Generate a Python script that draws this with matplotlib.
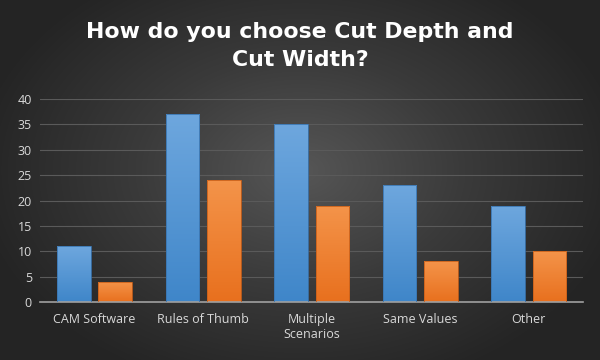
import numpy as np
import matplotlib
matplotlib.use("Agg")
import matplotlib.pyplot as plt
from matplotlib.colors import LinearSegmentedColormap

## data
categories = ["CAM Software", "Rules of Thumb", "Multiple\nScenarios", "Same Values", "Other"]
cut_depth = [11, 37, 35, 23, 19]   # blue
cut_width = [4, 24, 19, 8, 10]     # orange
y_ticks = [0, 5, 10, 15, 20, 25, 30, 35, 40]

plt.rcParams['font.family'] = ['Open Sans', 'DejaVu Sans']

fig = plt.figure(figsize=(6, 3.6), dpi=100)

# background: radial gradient, lighter in the middle
bg = fig.add_axes([0, 0, 1, 1])
yy, xx = np.mgrid[0:360, 0:600]
r = np.sqrt(((xx - 300) / 330.0) ** 2 + ((yy - 170) / 230.0) ** 2)
r = np.clip(r, 0, 1)
bg_cmap = LinearSegmentedColormap.from_list("bg", ["#565656", "#3a3a3a", "#242424"])
bg.imshow(r, cmap=bg_cmap, aspect='auto', extent=[0, 1, 0, 1], vmin=0, vmax=1)
bg.set_axis_off()

ax = fig.add_axes([0.067, 0.161, 0.905, 0.564])
ax.patch.set_alpha(0)

x = np.arange(len(categories))
w = 0.31
off = 0.19

blue_cmap = LinearSegmentedColormap.from_list("b", ["#3f86c9", "#6ea7de"])
orange_cmap = LinearSegmentedColormap.from_list("o", ["#e8701e", "#f4944a"])

def grad_bars(xs, vals, cmap, edge):
    bars = ax.bar(xs, vals, width=w, color='none', edgecolor=edge, linewidth=0.6, zorder=3)
    grad = np.linspace(0, 1, 256).reshape(-1, 1)
    for b in bars:
        x0 = b.get_x()
        im = ax.imshow(grad, cmap=cmap, aspect='auto', origin='lower',
                       extent=[x0, x0 + b.get_width(), 0, b.get_height()], zorder=2)
        im.set_clip_path(b)

grad_bars(x - off, cut_depth, blue_cmap, "#3a75b0")
grad_bars(x + off, cut_width, orange_cmap, "#c9601a")

ax.set_xlim(-0.5, len(categories) - 0.5)
ax.set_ylim(0, 40)
ax.set_yticks(y_ticks)
ax.set_xticks(x)
ax.set_xticklabels(categories)
ax.grid(axis='y', color='#5a5a5a', linewidth=0.8, zorder=0)
ax.set_axisbelow(True)
for s in ['top', 'right', 'left']:
    ax.spines[s].set_visible(False)
ax.spines['bottom'].set_color('#a0a0a0')
ax.spines['bottom'].set_linewidth(1.2)
ax.tick_params(axis='both', length=0, colors='#d9d9d9', labelsize=9)
ax.tick_params(axis='x', pad=8)
ax.tick_params(axis='y', pad=6)

fig.text(0.5, 0.872, "How do you choose Cut Depth and\nCut Width?", ha='center', va='center',
         color='white', fontsize=15.8, fontweight='bold', linespacing=1.5,
         family=['DejaVu Sans'])

fig.savefig("out.png", dpi=100)
